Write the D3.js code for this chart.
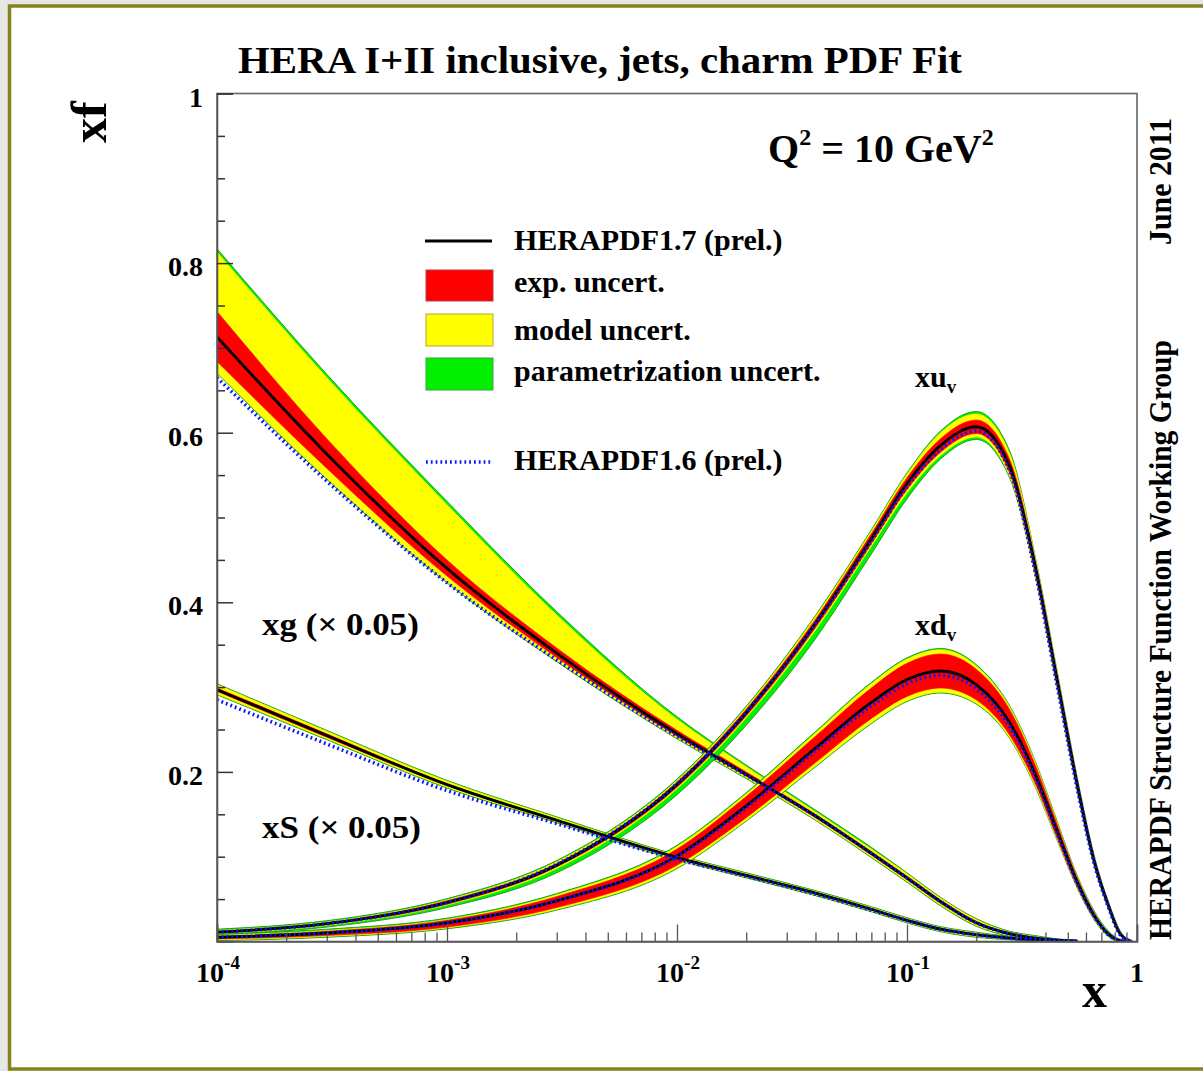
<!DOCTYPE html>
<html>
<head>
<meta charset="utf-8">
<script src="https://cdn.jsdelivr.net/npm/d3@7"></script>
<style>
  html, body { margin: 0; padding: 0; background: #e6e7e3; }
  svg { display: block; }
  text { font-family: "Liberation Serif", "Times New Roman", serif; font-weight: bold; fill: #000; }
</style>
</head>
<body>
<svg id="chart" width="1203" height="1071"></svg>
<script>
// Sampling points in x (Bjorken x)
const xGrid = [1e-4, 3e-4, 1e-3, 3e-3, 1e-2, 2e-2, 4e-2, 7e-2, 0.1, 0.14, 0.2, 0.28, 0.36, 0.45, 0.55, 0.65, 0.75, 0.85, 0.95];

// Gluon, xg (x 0.05); null = curve has ended on the axis
const xgCentral = [0.713, 0.575, 0.440, 0.340, 0.245, 0.197, 0.148, 0.104, 0.075, 0.047, 0.022, 0.009, 0.004, 0.0015, 0.0003, null, null, null, null];
const xgExpLo   = [0.684, 0.558, 0.431, 0.335, 0.242, 0.195, 0.146, 0.102, 0.073, 0.045, 0.021, 0.008, 0.003, 0.001, 0, null, null, null, null];
const xgExpHi   = [0.743, 0.593, 0.450, 0.346, 0.249, 0.200, 0.150, 0.106, 0.077, 0.049, 0.024, 0.010, 0.005, 0.002, 0.0003, null, null, null, null];
const xgModLo   = [0.671, 0.546, 0.424, 0.331, 0.240, 0.193, 0.144, 0.100, 0.071, 0.043, 0.019, 0.007, 0.002, 0.0005, 0, null, null, null, null];
const xgModHi   = [0.813, 0.665, 0.515, 0.385, 0.262, 0.206, 0.153, 0.109, 0.080, 0.051, 0.026, 0.011, 0.006, 0.0025, 0.0008, null, null, null, null];
const xgTotLo   = [0.670, 0.545, 0.423, 0.330, 0.239, 0.192, 0.143, 0.099, 0.070, 0.042, 0.018, 0.006, 0.001, 0, 0, null, null, null, null];
const xgTotHi   = [0.817, 0.669, 0.519, 0.389, 0.265, 0.208, 0.155, 0.111, 0.081, 0.052, 0.027, 0.012, 0.007, 0.003, 0.001, null, null, null, null];
const xgOld     = [0.665, 0.543, 0.423, 0.332, 0.242, 0.196, 0.148, 0.104, 0.075, 0.047, 0.022, 0.009, 0.004, 0.0015, 0.0003, null, null, null, null];

// Sea, xS (x 0.05)
const xsCentral = [0.297, 0.243, 0.185, 0.143, 0.099, 0.078, 0.057, 0.038, 0.025, 0.0145, 0.008, 0.004, 0.002, 0.001, 0.0003, null, null, null, null];
const xsExpLo   = [0.295, 0.241, 0.184, 0.142, 0.098, 0.077, 0.056, 0.037, 0.024, 0.0135, 0.007, 0.0035, 0.0015, 0.0005, 0, null, null, null, null];
const xsExpHi   = [0.299, 0.245, 0.186, 0.144, 0.100, 0.079, 0.058, 0.039, 0.026, 0.0155, 0.009, 0.0045, 0.0025, 0.0015, 0.0006, null, null, null, null];
const xsModLo   = [0.292, 0.239, 0.182, 0.141, 0.097, 0.076, 0.055, 0.036, 0.023, 0.0125, 0.006, 0.003, 0.001, 0, 0, null, null, null, null];
const xsModHi   = [0.303, 0.248, 0.189, 0.146, 0.101, 0.080, 0.059, 0.040, 0.027, 0.0165, 0.010, 0.005, 0.003, 0.002, 0.001, null, null, null, null];
const xsTotLo   = [0.291, 0.238, 0.181, 0.140, 0.096, 0.075, 0.054, 0.035, 0.022, 0.0115, 0.005, 0.002, 0.0005, 0, 0, null, null, null, null];
const xsTotHi   = [0.304, 0.249, 0.190, 0.147, 0.102, 0.081, 0.060, 0.041, 0.028, 0.0175, 0.011, 0.006, 0.0035, 0.0025, 0.0015, null, null, null, null];
const xsOld     = [0.285, 0.233, 0.178, 0.139, 0.097, 0.077, 0.056, 0.037, 0.025, 0.0145, 0.008, 0.004, 0.002, 0.001, 0.0005, null, null, null, null];

// u valence, xu_v
const xuCentral = [0.011, 0.021, 0.046, 0.090, 0.185, 0.270, 0.375, 0.475, 0.540, 0.585, 0.607, 0.560, 0.444, 0.308, 0.185, 0.096, 0.043, 0.008, 0];
const xuExpLo   = [0.010, 0.020, 0.044, 0.088, 0.182, 0.266, 0.370, 0.469, 0.533, 0.577, 0.599, 0.552, 0.437, 0.302, 0.180, 0.093, 0.041, 0.007, 0];
const xuExpHi   = [0.012, 0.022, 0.048, 0.092, 0.188, 0.274, 0.380, 0.481, 0.547, 0.593, 0.615, 0.568, 0.451, 0.314, 0.190, 0.099, 0.045, 0.009, 0];
const xuModLo   = [0.009, 0.019, 0.043, 0.086, 0.180, 0.264, 0.367, 0.466, 0.529, 0.573, 0.595, 0.548, 0.434, 0.299, 0.178, 0.091, 0.040, 0.006, 0];
const xuModHi   = [0.013, 0.023, 0.049, 0.094, 0.190, 0.276, 0.383, 0.484, 0.551, 0.600, 0.622, 0.575, 0.454, 0.317, 0.192, 0.101, 0.046, 0.010, 0];
const xuTotLo   = [0.008, 0.017, 0.040, 0.081, 0.173, 0.255, 0.357, 0.457, 0.522, 0.569, 0.592, 0.546, 0.433, 0.298, 0.177, 0.090, 0.039, 0.006, 0];
const xuTotHi   = [0.0145, 0.0245, 0.0505, 0.0955, 0.1915, 0.2775, 0.3845, 0.4855, 0.5525, 0.602, 0.625, 0.578, 0.4555, 0.3185, 0.1935, 0.1025, 0.0475, 0.0115, 0];
const xuOld     = [0.011, 0.021, 0.046, 0.091, 0.186, 0.270, 0.374, 0.472, 0.536, 0.580, 0.602, 0.554, 0.437, 0.301, 0.180, 0.093, 0.041, 0.007, 0];

// d valence, xd_v
const xdCentral = [0.005, 0.010, 0.022, 0.048, 0.101, 0.160, 0.228, 0.282, 0.309, 0.319, 0.303, 0.258, 0.198, 0.130, 0.070, 0.031, 0.009, 0.001, 0];
const xdExpLo   = [0.003, 0.007, 0.017, 0.040, 0.090, 0.146, 0.211, 0.263, 0.289, 0.299, 0.285, 0.243, 0.187, 0.122, 0.065, 0.028, 0.008, 0.001, 0];
const xdExpHi   = [0.006, 0.012, 0.025, 0.053, 0.109, 0.171, 0.242, 0.299, 0.328, 0.339, 0.321, 0.273, 0.209, 0.138, 0.075, 0.034, 0.010, 0.001, 0];
const xdModLo   = [0.002, 0.006, 0.016, 0.038, 0.087, 0.143, 0.207, 0.258, 0.284, 0.294, 0.281, 0.240, 0.184, 0.120, 0.064, 0.027, 0.007, 0.001, 0];
const xdModHi   = [0.007, 0.013, 0.026, 0.055, 0.112, 0.174, 0.246, 0.304, 0.333, 0.344, 0.325, 0.276, 0.212, 0.140, 0.076, 0.035, 0.011, 0.001, 0];
const xdTotLo   = [0.001, 0.005, 0.015, 0.037, 0.086, 0.142, 0.206, 0.257, 0.283, 0.293, 0.280, 0.239, 0.183, 0.119, 0.063, 0.026, 0.006, 0, 0];
const xdTotHi   = [0.0085, 0.0145, 0.0275, 0.0565, 0.1135, 0.1755, 0.2475, 0.3055, 0.3345, 0.3455, 0.3265, 0.2775, 0.2135, 0.1415, 0.0775, 0.0365, 0.0125, 0.002, 0];
const xdOld     = [0.005, 0.010, 0.022, 0.048, 0.100, 0.158, 0.225, 0.278, 0.304, 0.314, 0.298, 0.253, 0.194, 0.127, 0.068, 0.030, 0.008, 0.001, 0];

// Axis ticks
const yMajorTicks = [0.2, 0.4, 0.6, 0.8, 1];
const yTickLabels = ["0.2", "0.4", "0.6", "0.8", "1"];
const xDecadeExps = [-4, -3, -2, -1, 0];

// Legend entries
const legendLabels = ["HERAPDF1.7 (prel.)", "exp. uncert.", "model uncert.", "parametrization uncert.", "HERAPDF1.6 (prel.)"];

const COLORS = { exp: "#ff0000", model: "#ffff00", par: "#00f000", line: "#000000", old: "#0a14ff" };

const svg = d3.select("#chart");

// page border
svg.append("rect").attr("x", 9.5).attr("y", 6).attr("width", 1220).attr("height", 1063)
  .attr("fill", "#ffffff").attr("stroke", "#86831c").attr("stroke-width", 3.5);

const frame = { left: 217, right: 1137, top: 93.5, bottom: 941.5 };
const x = d3.scaleLog().domain([1e-4, 1]).range([frame.left, frame.right]);
const y = d3.scaleLinear().domain([0, 1]).range([frame.bottom, frame.top]);

svg.append("clipPath").attr("id", "plotClip").append("rect")
  .attr("x", frame.left).attr("y", frame.top - 2)
  .attr("width", frame.right - frame.left).attr("height", frame.bottom - frame.top + 2);

const plot = svg.append("g").attr("clip-path", "url(#plotClip)");

function rows(lo, hi) { return xGrid.map((xv, i) => ({ x: xv, lo: lo[i], hi: hi[i] })); }
function pts(vals) { return xGrid.map((xv, i) => ({ x: xv, v: vals[i] })); }

const area = d3.area().defined(d => d.lo != null && d.hi != null)
  .x(d => x(d.x)).y0(d => y(d.lo)).y1(d => y(d.hi)).curve(d3.curveMonotoneX);
const line = d3.line().defined(d => d.v != null)
  .x(d => x(d.x)).y(d => y(d.v)).curve(d3.curveMonotoneX);

const pdfs = [
  { c: xgCentral, el: xgExpLo, eh: xgExpHi, ml: xgModLo, mh: xgModHi, tl: xgTotLo, th: xgTotHi, old: xgOld },
  { c: xsCentral, el: xsExpLo, eh: xsExpHi, ml: xsModLo, mh: xsModHi, tl: xsTotLo, th: xsTotHi, old: xsOld },
  { c: xuCentral, el: xuExpLo, eh: xuExpHi, ml: xuModLo, mh: xuModHi, tl: xuTotLo, th: xuTotHi, old: xuOld },
  { c: xdCentral, el: xdExpLo, eh: xdExpHi, ml: xdModLo, mh: xdModHi, tl: xdTotLo, th: xdTotHi, old: xdOld }
];

// uncertainty bands: total (green), model (yellow), experimental (red)
pdfs.forEach(p => {
  plot.append("path").attr("d", area(rows(p.tl, p.th))).attr("fill", COLORS.par)
    .attr("stroke", "#2a9a2a").attr("stroke-width", 1);
  plot.append("path").attr("d", area(rows(p.ml, p.mh))).attr("fill", COLORS.model)
    .attr("stroke", COLORS.model).attr("stroke-width", 0.6);
  plot.append("path").attr("d", area(rows(p.el, p.eh))).attr("fill", COLORS.exp)
    .attr("stroke", COLORS.exp).attr("stroke-width", 0.6);
});
// central values
pdfs.forEach(p => {
  plot.append("path").attr("d", line(pts(p.c))).attr("fill", "none")
    .attr("stroke", COLORS.line).attr("stroke-width", 2.8);
});
// previous fit, dotted
pdfs.forEach(p => {
  plot.append("path").attr("d", line(pts(p.old))).attr("fill", "none")
    .attr("stroke", COLORS.old).attr("stroke-width", 3.6).attr("stroke-dasharray", "1.8,3");
});

// frame
svg.append("rect").attr("x", frame.left).attr("y", frame.top)
  .attr("width", frame.right - frame.left).attr("height", frame.bottom - frame.top)
  .attr("fill", "none").attr("stroke", "#666").attr("stroke-width", 1.6);

// y axis: major and minor ticks pointing inwards
const yMinor = d3.range(0.05, 1.0001, 0.05).filter(v => !yMajorTicks.some(m => Math.abs(m - v) < 1e-6));
svg.append("g").attr("transform", `translate(${frame.left},0)`)
  .call(d3.axisLeft(y).tickValues(yMinor).tickSize(-8).tickFormat(""))
  .call(g => g.select(".domain").remove())
  .call(g => g.selectAll("line").attr("stroke", "#333").attr("stroke-width", 1.5));
svg.append("g").attr("transform", `translate(${frame.left},0)`)
  .call(d3.axisLeft(y).tickValues(yMajorTicks).tickSize(-16).tickPadding(14)
    .tickFormat((d, i) => yTickLabels[i]))
  .call(g => g.select(".domain").attr("stroke", "#555").attr("stroke-width", 1.6))
  .call(g => g.selectAll("line").attr("stroke", "#333").attr("stroke-width", 1.5))
  .call(g => g.selectAll("text").attr("font-size", 28).attr("dy", "0.45em")
    .attr("font-family", "Liberation Serif").attr("font-weight", "bold").attr("fill", "#000"));

// x axis: decades plus 2..9 minor ticks
const xMinor = [];
xDecadeExps.slice(0, -1).forEach(e => { for (let k = 2; k <= 9; k++) xMinor.push(k * Math.pow(10, e)); });
svg.append("g").attr("transform", `translate(0,${frame.bottom})`)
  .call(d3.axisBottom(x).tickValues(xMinor).tickSize(-9).tickFormat(""))
  .call(g => g.select(".domain").remove())
  .call(g => g.selectAll("line").attr("stroke", "#555").attr("stroke-width", 1.3));
svg.append("g").attr("transform", `translate(0,${frame.bottom})`)
  .call(d3.axisBottom(x).tickValues(xDecadeExps.map(e => Math.pow(10, e))).tickSize(-17).tickFormat(""))
  .call(g => g.select(".domain").attr("stroke", "#555").attr("stroke-width", 1.6))
  .call(g => g.selectAll("line").attr("stroke", "#555").attr("stroke-width", 1.3));

// x decade labels with superscript exponents
xDecadeExps.forEach(e => {
  const t = svg.append("text").attr("y", 982).attr("font-size", 28).attr("text-anchor", "middle");
  if (e === 0) {
    t.attr("x", x(1)).text("1");
  } else {
    t.attr("x", x(Math.pow(10, e)) + 1);
    t.append("tspan").text("10");
    t.append("tspan").attr("dy", -13).attr("font-size", 19).text(String(e));
  }
});

// axis titles
svg.append("text").attr("transform", "translate(106,143) rotate(-90)").attr("font-size", 50).text("xf");
svg.append("text").attr("x", 1082).attr("y", 1007).attr("font-size", 50).text("x");

// title and scale label
svg.append("text").attr("x", 238).attr("y", 73).attr("font-size", 38)
  .attr("textLength", 724).attr("lengthAdjust", "spacingAndGlyphs")
  .text("HERA I+II inclusive, jets, charm PDF Fit");

const q = svg.append("text").attr("x", 768).attr("y", 162).attr("font-size", 40);
q.append("tspan").text("Q");
q.append("tspan").attr("dy", -17).attr("font-size", 24).text("2");
q.append("tspan").attr("dy", 17).text(" = 10 GeV");
q.append("tspan").attr("dy", -17).attr("font-size", 24).text("2");

// side labels
svg.append("text").attr("transform", "translate(1171,245) rotate(-90)").attr("font-size", 31)
  .attr("textLength", 127).attr("lengthAdjust", "spacingAndGlyphs").text("June 2011");
svg.append("text").attr("transform", "translate(1171,940) rotate(-90)").attr("font-size", 31)
  .attr("textLength", 600).attr("lengthAdjust", "spacingAndGlyphs").text("HERAPDF Structure Function Working Group");

// curve labels
function subLabel(px, py, main, sub) {
  const t = svg.append("text").attr("x", px).attr("y", py).attr("font-size", 30);
  t.append("tspan").text(main);
  t.append("tspan").attr("dy", 6).attr("font-size", 19).text(sub);
}
subLabel(915, 387, "xu", "v");
subLabel(915, 635, "xd", "v");
svg.append("text").attr("x", 262).attr("y", 635).attr("font-size", 31)
  .attr("textLength", 157).attr("lengthAdjust", "spacingAndGlyphs").text("xg (\u00D7 0.05)");
svg.append("text").attr("x", 262).attr("y", 838).attr("font-size", 31)
  .attr("textLength", 159).attr("lengthAdjust", "spacingAndGlyphs").text("xS (\u00D7 0.05)");

// legend
const lg = svg.append("g");
lg.append("line").attr("x1", 425).attr("x2", 492).attr("y1", 241).attr("y2", 241)
  .attr("stroke", COLORS.line).attr("stroke-width", 2.8);
lg.append("rect").attr("x", 426).attr("y", 270).attr("width", 67).attr("height", 31)
  .attr("fill", COLORS.exp).attr("stroke", "#b04040").attr("stroke-width", 1);
lg.append("rect").attr("x", 426).attr("y", 314).attr("width", 67).attr("height", 32)
  .attr("fill", COLORS.model).attr("stroke", "#b8a830").attr("stroke-width", 1);
lg.append("rect").attr("x", 426).attr("y", 358).attr("width", 67).attr("height", 32)
  .attr("fill", COLORS.par).attr("stroke", "#40a040").attr("stroke-width", 1);
lg.append("line").attr("x1", 426).attr("x2", 492).attr("y1", 462).attr("y2", 462)
  .attr("stroke", COLORS.old).attr("stroke-width", 3.6).attr("stroke-dasharray", "1.8,3");
const legendY = [250, 292, 340, 381, 470];
legendLabels.forEach((s, i) => {
  lg.append("text").attr("x", 514).attr("y", legendY[i]).attr("font-size", 30).text(s);
});
</script>
</body>
</html>
